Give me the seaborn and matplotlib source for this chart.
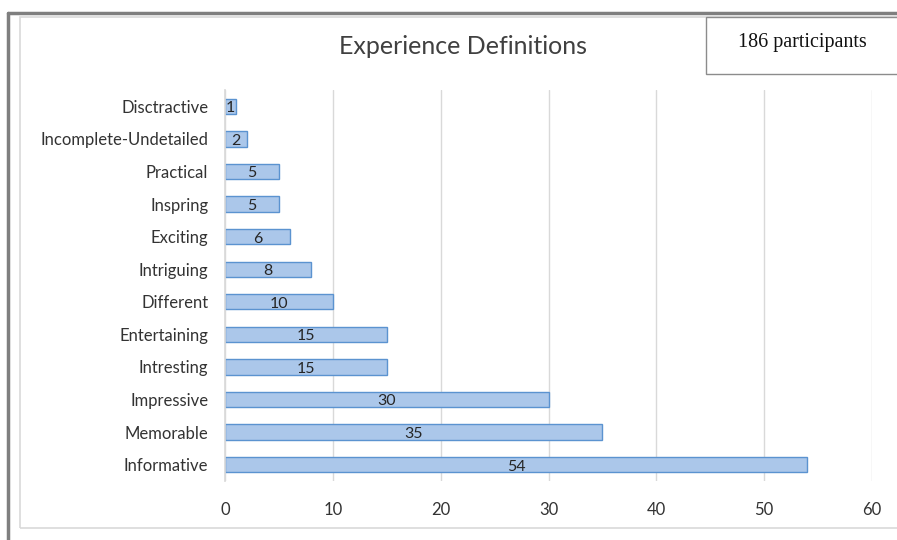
import matplotlib
matplotlib.use("Agg")
import matplotlib.pyplot as plt
import seaborn as sns
import pandas as pd
from matplotlib.patches import Rectangle
from matplotlib.lines import Line2D

categories = ["Disctractive", "Incomplete-Undetailed", "Practical", "Inspring", "Exciting",
              "Intriguing", "Different", "Entertaining", "Intresting", "Impressive",
              "Memorable", "Informative"]
values = [1, 2, 5, 5, 6, 8, 10, 15, 15, 30, 35, 54]
x_ticks = [0, 10, 20, 30, 40, 50, 60]
title = "Experience Definitions"
note = "186 participants"

df = pd.DataFrame({"category": categories, "value": values})

sns.set_theme(style="white")
plt.rcParams["font.family"] = ["Lato", "DejaVu Sans"]

W, H = 897, 540
fig = plt.figure(figsize=(W / 100, H / 100), dpi=100)

# outer frames
fig.add_artist(Line2D([8 / W, 8 / W], [0, 1 - 13 / H], transform=fig.transFigure,
                      color="#7f7f7f", lw=2.5))
fig.add_artist(Line2D([8 / W, 1], [1 - 13 / H, 1 - 13 / H], transform=fig.transFigure,
                      color="#7f7f7f", lw=2.5))
fig.add_artist(Rectangle((20 / W, 1 - 528 / H), (W - 18) / W, (528 - 17) / H,
                         transform=fig.transFigure, fill=False, ec="#d9d9d9", lw=1.2))

ax = fig.add_axes([225 / W, 1 - 481 / H, (872 - 225) / W, (481 - 90) / H])
sns.barplot(data=df, x="value", y="category", orient="h", color="#abc7ea",
            edgecolor="#5b93d0", linewidth=1.0, width=0.47, ax=ax, saturation=1)

for i, v in enumerate(values):
    ax.text(v / 2, i + 0.06, str(v), ha="center", va="center", fontsize=11.5, color="#262626")

ax.set_xlim(0, 60)
ax.set_ylim(11.5, -0.5)
ax.set_xticks(x_ticks)
ax.set_xticklabels([str(t) for t in x_ticks])
ax.xaxis.grid(True, color="#d9d9d9", lw=1)
ax.set_axisbelow(True)
for s in ["top", "right", "bottom"]:
    ax.spines[s].set_visible(False)
ax.spines["left"].set_color("#d9d9d9")
ax.set_xlabel("")
ax.set_ylabel("")
ax.tick_params(axis="y", length=0, pad=12, labelsize=12, labelcolor="#333333")
ax.tick_params(axis="x", length=0, pad=15, labelsize=12, labelcolor="#333333")

fig.text(463 / W, 1 - 47 / H, title, ha="center", va="center", fontsize=18, color="#404040")

fig.add_artist(Rectangle((706 / W, 1 - 74 / H), (W - 706 + 5) / W, (74 - 17) / H,
                         transform=fig.transFigure, fill=True, fc="white", ec="#8c8c8c", lw=1))
fig.text(802 / W, 1 - 43 / H, note, ha="center", va="center", fontsize=14.5,
         family=["Liberation Serif", "DejaVu Serif"], color="#111111")

fig.savefig("out.png", dpi=100, facecolor="white")
